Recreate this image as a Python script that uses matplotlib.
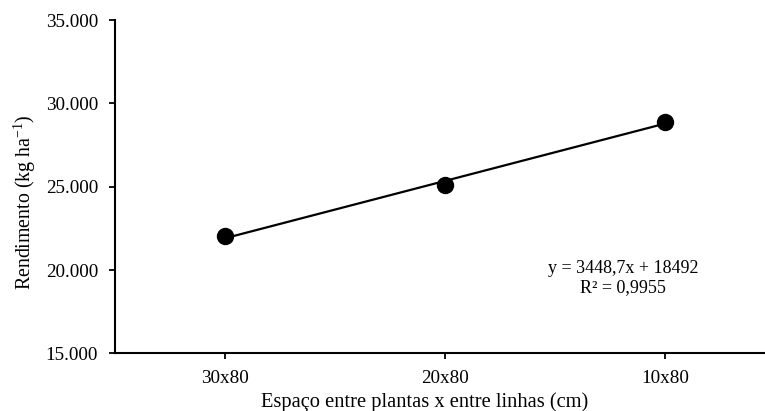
import matplotlib
matplotlib.use("Agg")
import matplotlib.pyplot as plt
import numpy as np
from matplotlib.ticker import FuncFormatter

plt.rcParams['font.family'] = ['Liberation Serif', 'DejaVu Serif']
plt.rcParams['mathtext.fontset'] = 'custom'
plt.rcParams['mathtext.rm'] = 'Liberation Serif'
plt.rcParams['mathtext.it'] = 'Liberation Serif:italic'

categories = ['30x80', '20x80', '10x80']
rendimento = [22030, 25110, 28910]
equation_text = 'y = 3448,7x + 18492\nR² = 0,9955'

fig = plt.figure(figsize=(7.65, 4.11), dpi=100)
ax = fig.add_axes([0.150, 0.140, 0.850, 0.811])

x = np.arange(1, len(categories) + 1)
coef = np.polyfit(x, rendimento, 1)
xl = np.array([x[0], x[-1]])
ax.plot(xl, np.polyval(coef, xl), color='black', lw=1.6, zorder=2)
ax.plot(x, rendimento, 'o', color='black', ms=11.5, zorder=3)

ax.set_xlim(0.5, 3.455)
ax.set_ylim(15000, 35000)
ax.set_yticks([15000, 20000, 25000, 30000, 35000])
ax.yaxis.set_major_formatter(FuncFormatter(lambda v, p: f'{int(v):,}'.replace(',', '.')))
ax.set_xticks(x)
ax.set_xticklabels(categories)

for s in ['top', 'right']:
    ax.spines[s].set_visible(False)
for s in ['left', 'bottom']:
    ax.spines[s].set_linewidth(1.5)
ax.tick_params(axis='both', direction='out', length=4, width=1.3, labelsize=13.8, colors='black')
ax.tick_params(axis='x', pad=8)
ax.tick_params(axis='y', pad=8)

ax.set_xlabel('Espaço entre plantas x entre linhas (cm)', fontsize=14.8, labelpad=1)
ax.xaxis.set_label_coords(0.477, -0.115)
ax.set_ylabel(r'Rendimento (kg ha$^{\mathregular{-1}}$)', fontsize=14.3, labelpad=8)
ax.yaxis.set_label_coords(-0.118, 0.453)

ax.text(2.81, 19520, equation_text, ha='center', va='center', fontsize=13, linespacing=1.15)

fig.savefig('out.png', dpi=100)
